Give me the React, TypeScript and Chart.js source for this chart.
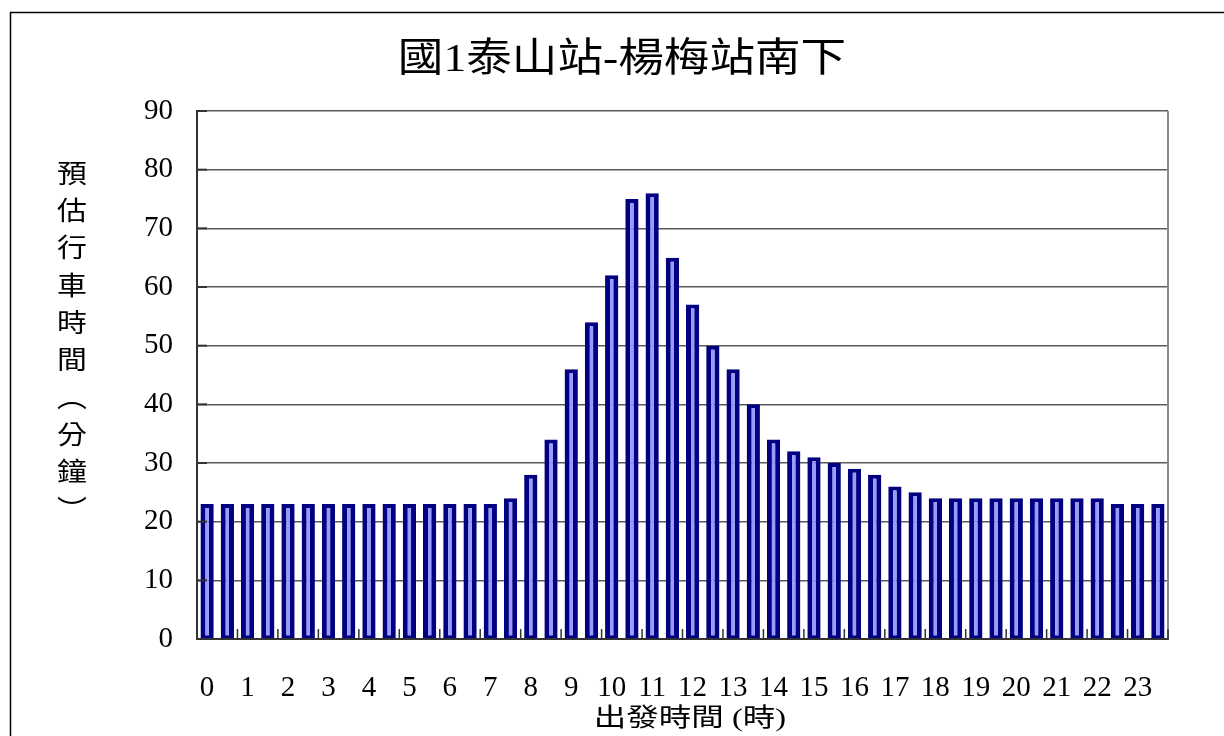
import React, { useEffect, useRef } from "react";
import { Chart, registerables } from "chart.js";

Chart.register(...registerables);

const chartTitle = "國1泰山站-楊梅站南下";
const yTitleChars = ["預", "估", "行", "車", "時", "間", "︵", "分", "鐘", "︶"];
const xTitle = "出發時間 (時)";

const categories = [
  "0:00", "0:30", "1:00", "1:30", "2:00", "2:30", "3:00", "3:30",
  "4:00", "4:30", "5:00", "5:30", "6:00", "6:30", "7:00", "7:30",
  "8:00", "8:30", "9:00", "9:30", "10:00", "10:30", "11:00", "11:30",
  "12:00", "12:30", "13:00", "13:30", "14:00", "14:30", "15:00", "15:30",
  "16:00", "16:30", "17:00", "17:30", "18:00", "18:30", "19:00", "19:30",
  "20:00", "20:30", "21:00", "21:30", "22:00", "22:30", "23:00", "23:30",
];

const hourTicks = [
  "0", "1", "2", "3", "4", "5", "6", "7", "8", "9", "10", "11",
  "12", "13", "14", "15", "16", "17", "18", "19", "20", "21", "22", "23",
];

const travelMinutes = [
  23, 23, 23, 23, 23, 23, 23, 23, 23, 23, 23, 23, 23, 23, 23, 24,
  28, 34, 46, 54, 62, 75, 76, 65, 57, 50, 46, 40, 34, 32, 31, 30,
  29, 28, 26, 25, 24, 24, 24, 24, 24, 24, 24, 24, 24, 23, 23, 23,
];

const yMin = 0;
const yMax = 90;
const yStep = 10;

const SERIF = '"Liberation Serif", "Times New Roman", "Noto Sans CJK TC", serif';

function drawScaledText(
  ctx: CanvasRenderingContext2D,
  text: string,
  cx: number,
  cy: number,
  size: number,
  hscale: number
) {
  ctx.save();
  ctx.font = `${size}px ${SERIF}`;
  ctx.fillStyle = "#000";
  ctx.textAlign = "center";
  ctx.textBaseline = "middle";
  ctx.translate(cx, cy);
  ctx.scale(hscale, 1);
  ctx.fillText(text, 0, 0);
  ctx.restore();
}

const decorPlugin = {
  id: "decor",
  beforeDraw(chart: any) {
    const ctx = chart.ctx as CanvasRenderingContext2D;
    ctx.save();
    ctx.fillStyle = "#fff";
    ctx.fillRect(0, 0, chart.width, chart.height);
    ctx.strokeStyle = "#000";
    ctx.lineWidth = 1.5;
    ctx.strokeRect(10.5, 12.5, chart.width + 50, chart.height + 50);
    ctx.restore();
  },
  afterDatasetsDraw(chart: any) {
    const ctx = chart.ctx as CanvasRenderingContext2D;
    const area = chart.chartArea;
    const xs = chart.scales.x;
    const ys = chart.scales.y;
    ctx.save();
    ctx.strokeStyle = "#8a8a8a";
    ctx.lineWidth = 2;
    ctx.beginPath();
    ctx.moveTo(area.right, area.top);
    ctx.lineTo(area.right, area.bottom);
    ctx.stroke();
    ctx.strokeStyle = "#333";
    ctx.lineWidth = 2;
    for (let v = yMin; v <= yMax; v += yStep) {
      const y = ys.getPixelForValue(v);
      ctx.beginPath();
      ctx.moveTo(area.left, y);
      ctx.lineTo(area.left + 10, y);
      ctx.stroke();
    }
    ctx.lineWidth = 1.5;
    for (let k = 1; k < categories.length; k += 2) {
      const x = xs.getPixelForValue(k + 0.5);
      ctx.beginPath();
      ctx.moveTo(x, area.bottom);
      ctx.lineTo(x, area.bottom - 10);
      ctx.stroke();
    }
    ctx.restore();
  },
  afterDraw(chart: any) {
    const ctx = chart.ctx as CanvasRenderingContext2D;
    drawScaledText(ctx, chartTitle, 622, 60, 40, 1.14);
    yTitleChars.forEach((ch, i) => {
      drawScaledText(ctx, ch, 72, 176 + i * 37.3, 26, 1.15);
    });
    drawScaledText(ctx, xTitle, 690, 719, 25, 1.3);
  },
};

export default function App() {
  const canvasRef = useRef<HTMLCanvasElement | null>(null);

  useEffect(() => {
    if (!canvasRef.current) return;
    const chart = new Chart(canvasRef.current, {
      type: "bar",
      data: {
        labels: categories,
        datasets: [
          {
            label: "預估行車時間",
            data: travelMinutes,
            backgroundColor: "#9999ff",
            borderColor: "#000080",
            borderWidth: { left: 5, right: 5, top: 4, bottom: 3 },
            borderSkipped: false,
            barPercentage: 0.82,
            categoryPercentage: 0.8,
          },
        ],
      },
      options: {
        responsive: false,
        animation: false,
        devicePixelRatio: 1,
        layout: { padding: { left: 137, top: 111, right: 56, bottom: 0 } },
        plugins: {
          legend: { display: false },
          title: { display: false },
          tooltip: { enabled: false },
        },
        scales: {
          x: {
            type: "category",
            offset: true,
            grid: { display: false, drawTicks: false },
            border: { display: true, color: "#333", width: 2 },
            ticks: {
              autoSkip: false,
              maxRotation: 0,
              minRotation: 0,
              padding: 32,
              color: "#000",
              font: { family: SERIF, size: 29 },
              callback: (_v: any, index: number) =>
                index % 2 === 0 ? hourTicks[index / 2] : "",
            },
            afterFit: (scale: any) => {
              scale.height = 97;
            },
          },
          y: {
            min: yMin,
            max: yMax,
            grid: { color: "#5a5a5a", lineWidth: 1.5, drawTicks: false },
            border: { display: true, color: "#333", width: 2 },
            ticks: {
              stepSize: yStep,
              padding: 24,
              color: "#000",
              font: { family: SERIF, size: 29 },
            },
            afterFit: (scale: any) => {
              scale.width = 60;
            },
          },
        },
      },
      plugins: [decorPlugin],
    });
    return () => chart.destroy();
  }, []);

  return (
    <div style={{ position: "absolute", left: 0, top: 0, width: 1224, height: 736 }}>
      <canvas ref={canvasRef} width={1224} height={736} />
    </div>
  );
}
